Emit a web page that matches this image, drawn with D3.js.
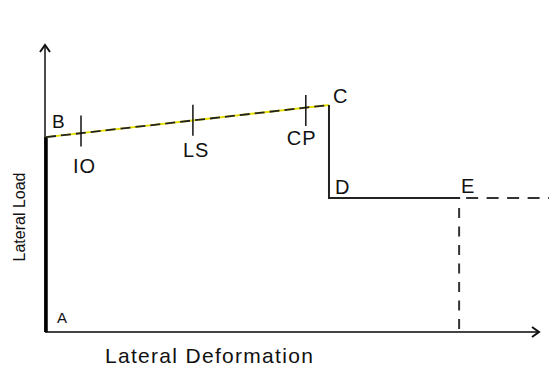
<!DOCTYPE html>
<html>
<head>
<meta charset="utf-8">
<script src="https://cdn.jsdelivr.net/npm/d3@7"></script>
<style>
  body { margin: 0; background: #fff; }
  text { font-family: "Liberation Sans", Arial, sans-serif; fill: #111; }
</style>
</head>
<body>
<div id="chart-area"></div>
<script>
const WIDTH = 549
const HEIGHT = 369

// backbone points (deformation / load, arbitrary units)
const pointNames = ["A", "B", "C", "D", "E"]
const deformation = [0, 0, 5.74, 5.74, 8.4]
const load = [0, 6.79, 7.91, 4.67, 4.67]

// performance levels on the B-C branch
const levelNames = ["IO", "LS", "CP"]
const levelDeformation = [0.71, 2.98, 5.27]
const levelLoad = [7.0, 7.38, 7.72]

const svg = d3.select("#chart-area").append("svg")
  .attr("width", WIDTH)
  .attr("height", HEIGHT)

const x = d3.scaleLinear().domain([0, 10]).range([46, 539])
const y = d3.scaleLinear().domain([0, 10]).range([332, 45])

const pts = pointNames.map((n, i) => ({ name: n, x: deformation[i], y: load[i] }))
const P = n => pts.find(p => p.name === n)

// axes with arrow heads
svg.append("line")
  .attr("x1", x(0) - 1).attr("x2", x(0) - 1)
  .attr("y1", y(0)).attr("y2", y(10))
  .attr("stroke", "#111").attr("stroke-width", 1.5)
svg.append("line")
  .attr("x1", x(0) - 1).attr("x2", x(10))
  .attr("y1", y(0)).attr("y2", y(0))
  .attr("stroke", "#444").attr("stroke-width", 2)

svg.append("path")
  .attr("d", `M${x(0) - 6},${y(10) + 7} L${x(0) - 1},${y(10)} L${x(0) + 4},${y(10) + 7}`)
  .attr("fill", "none").attr("stroke", "#111").attr("stroke-width", 2)
svg.append("path")
  .attr("d", `M${x(10) - 7},${y(0) - 5} L${x(10)},${y(0)} L${x(10) - 7},${y(0) + 5}`)
  .attr("fill", "none").attr("stroke", "#111").attr("stroke-width", 2)

// A-B elastic branch (thick)
svg.append("line")
  .attr("x1", x(P("A").x)).attr("x2", x(P("B").x))
  .attr("y1", y(P("A").y)).attr("y2", y(P("B").y))
  .attr("stroke", "#000").attr("stroke-width", 3.5)

// B-C hardening branch: yellow under black dashes
const bc = [P("B"), P("C")]
const lineGen = d3.line().x(d => x(d.x)).y(d => y(d.y))
svg.append("path").attr("d", lineGen(bc))
  .attr("fill", "none").attr("stroke", "#e8e000").attr("stroke-width", 1.8)
svg.append("path").attr("d", lineGen(bc))
  .attr("fill", "none").attr("stroke", "#222").attr("stroke-width", 1.8)
  .attr("stroke-dasharray", "10,5")

// C-D-E
svg.append("path").attr("d", lineGen([P("C"), P("D"), P("E")]))
  .attr("fill", "none").attr("stroke", "#222").attr("stroke-width", 2)

// dashed continuation beyond E
svg.append("line")
  .attr("x1", x(P("E").x) + 6).attr("x2", x(10.3))
  .attr("y1", y(P("E").y)).attr("y2", y(P("E").y))
  .attr("stroke", "#333").attr("stroke-width", 2)
  .attr("stroke-dasharray", "12,8.5")
svg.append("line")
  .attr("x1", x(P("E").x) - 1).attr("x2", x(P("E").x) - 1)
  .attr("y1", y(P("E").y) + 10).attr("y2", y(0) - 2)
  .attr("stroke", "#333").attr("stroke-width", 2)
  .attr("stroke-dasharray", "10,8.5")

// performance level ticks
levelNames.forEach((n, i) => {
  const cx = x(levelDeformation[i]), cy = y(levelLoad[i])
  svg.append("line")
    .attr("x1", cx).attr("x2", cx)
    .attr("y1", cy - 15.5).attr("y2", cy + 15.5)
    .attr("stroke", "#111").attr("stroke-width", 1.5)
})

// labels
const levelLabelOffset = { IO: [-8, 42], LS: [-10, 37], CP: [-19, 35] }
levelNames.forEach((n, i) => {
  svg.append("text")
    .attr("x", x(levelDeformation[i]) + levelLabelOffset[n][0])
    .attr("y", y(levelLoad[i]) + levelLabelOffset[n][1])
    .attr("font-size", 20).attr("letter-spacing", 1)
    .text(n)
})

const pointLabelOffset = { A: [11, -9, 15], B: [6, -9, 19], C: [4, -2, 20], D: [6, -4, 20], E: [1, -5, 20] }
pts.forEach(p => {
  const o = pointLabelOffset[p.name]
  svg.append("text")
    .attr("x", x(p.x) + o[0])
    .attr("y", y(p.y) + o[1])
    .attr("font-size", o[2])
    .text(p.name)
})

svg.append("text")
  .attr("x", 105).attr("y", 363)
  .attr("font-size", 21).attr("letter-spacing", 1.3)
  .text("Lateral Deformation")

svg.append("text")
  .attr("transform", "translate(25,217) rotate(-90)")
  .attr("text-anchor", "middle")
  .attr("font-size", 16)
  .text("Lateral Load")
</script>
</body>
</html>
